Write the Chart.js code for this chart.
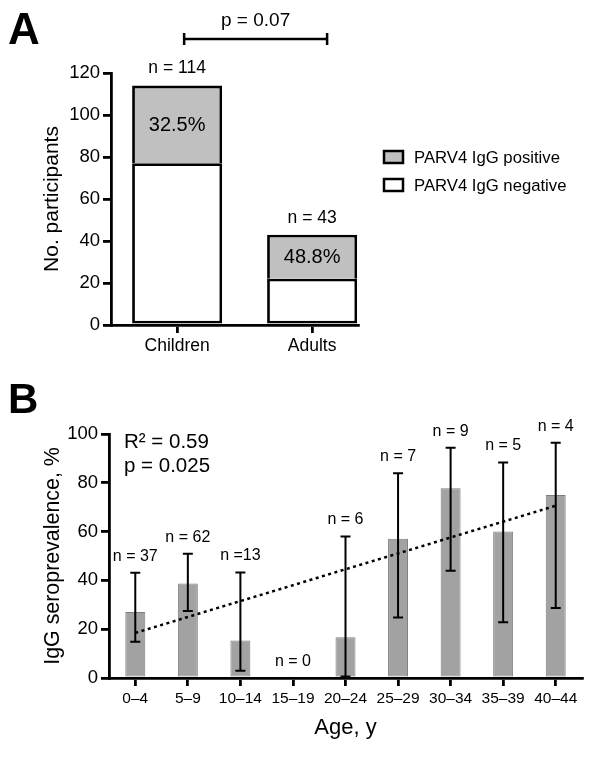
<!DOCTYPE html>
<html>
<head>
<meta charset="utf-8">
<script src="https://cdn.jsdelivr.net/npm/chart.js@4/dist/chart.umd.min.js"></script>
<style>
  body { margin: 0; background: #fff; }
  #wrap { position: relative; width: 600px; height: 768px; background: #fff; }
  #wrap canvas { position: absolute; left: 0; }
</style>
</head>
<body>
<div id="wrap">
  <canvas id="chartA" width="600" height="370" style="top:0px"></canvas>
  <canvas id="chartB" width="600" height="398" style="top:370px"></canvas>
</div>
<script>
// panel A data
var groups = ['Children', 'Adults'];
var negativeCounts = [77, 22];
var positiveCounts = [37, 21];
var totalLabels = ['n = 114', 'n = 43'];
var positivePct = ['32.5%', '48.8%'];
var countTicks = [0, 20, 40, 60, 80, 100, 120];

// panel B data
var ageGroups = ['0–4', '5–9', '10–14', '15–19', '20–24', '25–29', '30–34', '35–39', '40–44'];
var seroprev = [27.0, 38.7, 15.4, 0, 16.7, 57.1, 77.8, 60.0, 75.0];
var errLow = [14.9, 27.5, 3.0, null, 0.6, 24.8, 44.0, 22.8, 28.7];
var errHigh = [43.1, 50.9, 43.2, null, 58.0, 83.9, 94.4, 88.3, 96.4];
var nLabels = ['n = 37', 'n = 62', 'n =13', 'n = 0', 'n = 6', 'n = 7', 'n = 9', 'n = 5', 'n = 4'];
var trend = [18.5, null, null, null, null, null, null, null, 70.6];
var prevTicks = [0, 20, 40, 60, 80, 100];

var FONT = "'Liberation Sans', Arial, Helvetica, sans-serif";

function axisStyle() {
  return {
    grid: { drawOnChartArea: false, drawTicks: true, tickLength: 8, lineWidth: 2.8, color: '#000' },
    border: { display: true, color: '#000', width: 2.8 }
  };
}

/*
  panel A: stacked counts, linear x so the two bars can sit off-centre
*/
var annotateA = {
  id: 'annotateA',
  afterDraw: function (chart) {
    var ctx = chart.ctx;
    var x = chart.scales.x, y = chart.scales.y;
    ctx.save();
    ctx.fillStyle = '#000';
    ctx.strokeStyle = '#000';
    ctx.textAlign = 'center';
    ctx.textBaseline = 'middle';

    groups.forEach(function (g, i) {
      var cx = x.getPixelForValue(i);
      var total = negativeCounts[i] + positiveCounts[i];
      ctx.font = '17.5px ' + FONT;
      ctx.fillText(totalLabels[i], cx, y.getPixelForValue(total) - 17);
      ctx.font = '20px ' + FONT;
      ctx.fillText(positivePct[i], cx, y.getPixelForValue(negativeCounts[i] + positiveCounts[i] / 2) + 1);
    });

    // p value bracket
    var x1 = x.getPixelForValue(0) + 7, x2 = x.getPixelForValue(1) + 15, by = 39;
    ctx.lineWidth = 2.5;
    ctx.beginPath();
    ctx.moveTo(x1, by); ctx.lineTo(x2, by);
    ctx.moveTo(x1, by - 6); ctx.lineTo(x1, by + 6);
    ctx.moveTo(x2, by - 6); ctx.lineTo(x2, by + 6);
    ctx.stroke();
    ctx.font = '19px ' + FONT;
    ctx.fillText('p = 0.07', (x1 + x2) / 2, 21);

    // legend, positive first
    var items = [chart.data.datasets[1], chart.data.datasets[0]];
    var ly = [157, 185];
    ctx.textAlign = 'left';
    ctx.font = '16.7px ' + FONT;
    items.forEach(function (ds, k) {
      ctx.fillStyle = ds.backgroundColor;
      ctx.fillRect(384, ly[k] - 6, 19, 12);
      ctx.lineWidth = 2.5;
      ctx.strokeRect(384, ly[k] - 6, 19, 12);
      ctx.fillStyle = '#000';
      ctx.fillText(ds.label, 414, ly[k] + 1);
    });

    ctx.font = 'bold 44px ' + FONT;
    ctx.textBaseline = 'alphabetic';
    ctx.fillText('A', 8, 44);
    ctx.restore();
  }
};

var negData = groups.map(function (g, i) { return { x: i, y: negativeCounts[i] }; });
var posData = groups.map(function (g, i) { return { x: i, y: positiveCounts[i] }; });

var xA = axisStyle();
var yA = axisStyle();

new Chart(document.getElementById('chartA'), {
  type: 'bar',
  data: {
    datasets: [{
      label: 'PARV4 IgG negative',
      data: negData,
      backgroundColor: '#ffffff',
      borderColor: '#000',
      borderWidth: 2.8,
      borderSkipped: false,
      barPercentage: 0.667,
      categoryPercentage: 1
    }, {
      label: 'PARV4 IgG positive',
      data: posData,
      backgroundColor: '#c0c0c0',
      borderColor: '#000',
      borderWidth: 2.8,
      borderSkipped: 'bottom',
      barPercentage: 0.667,
      categoryPercentage: 1
    }]
  },
  options: {
    responsive: false,
    animation: false,
    layout: { padding: { left: 40, top: 73, right: 242, bottom: 0 } },
    plugins: { legend: { display: false }, tooltip: { enabled: false } },
    scales: {
      x: {
        type: 'linear',
        stacked: true,
        offset: false,
        min: -0.49,
        max: 1.34,
        afterBuildTicks: function (s) {
          s.ticks = groups.map(function (g, i) { return { value: i }; });
        },
        afterFit: function (s) { s.height = 45; },
        ticks: {
          autoSkip: false,
          maxRotation: 0,
          padding: 3,
          color: '#000',
          font: { family: FONT, size: 17.5 },
          callback: function (v) { return groups[v]; }
        },
        grid: Object.assign({}, xA.grid, { offset: false }),
        border: xA.border
      },
      y: {
        stacked: true,
        min: 0,
        max: 120,
        afterBuildTicks: function (s) {
          s.ticks = countTicks.map(function (v) { return { value: v }; });
        },
        afterFit: function (s) { s.width = 71; },
        ticks: { padding: 3, color: '#000', font: { family: FONT, size: 18.5 } },
        title: { display: true, text: 'No. participants', color: '#000', padding: 0, font: { family: FONT, size: 21 } },
        grid: yA.grid,
        border: yA.border
      }
    }
  },
  plugins: [annotateA]
});

/*
  panel B: seroprevalence by age with CI bars and the fitted line
*/
var annotateB = {
  id: 'annotateB',
  afterDatasetsDraw: function (chart) {
    var ctx = chart.ctx;
    var x = chart.scales.x, y = chart.scales.y;
    ctx.save();
    ctx.strokeStyle = '#000';
    ctx.lineWidth = 2;
    for (var i = 0; i < ageGroups.length; i++) {
      if (errHigh[i] == null) continue;
      var cx = x.getPixelForValue(i);
      var yh = y.getPixelForValue(errHigh[i]);
      var yl = y.getPixelForValue(errLow[i]);
      ctx.beginPath();
      ctx.moveTo(cx, yh); ctx.lineTo(cx, yl);
      ctx.moveTo(cx - 5, yh); ctx.lineTo(cx + 5, yh);
      ctx.moveTo(cx - 5, yl); ctx.lineTo(cx + 5, yl);
      ctx.stroke();
    }
    ctx.restore();
  },
  afterDraw: function (chart) {
    var ctx = chart.ctx;
    var x = chart.scales.x, y = chart.scales.y;
    ctx.save();
    ctx.fillStyle = '#000';
    ctx.textAlign = 'center';
    ctx.textBaseline = 'middle';
    ctx.font = '16px ' + FONT;
    for (var i = 0; i < ageGroups.length; i++) {
      var top = Math.max(seroprev[i], errHigh[i] == null ? 0 : errHigh[i]);
      ctx.fillText(nLabels[i], x.getPixelForValue(i), y.getPixelForValue(top) - 16.5);
    }
    ctx.textAlign = 'left';
    ctx.font = '20.5px ' + FONT;
    ctx.fillText('R² = 0.59', 124, 72);
    ctx.fillText('p = 0.025', 124, 96);

    ctx.font = 'bold 42px ' + FONT;
    ctx.textBaseline = 'alphabetic';
    ctx.fillText('B', 8, 43);
    ctx.restore();
  }
};

var xB = axisStyle();
var yB = axisStyle();

new Chart(document.getElementById('chartB'), {
  type: 'bar',
  data: {
    labels: ageGroups,
    datasets: [{
      type: 'line',
      data: trend,
      spanGaps: true,
      borderColor: '#000',
      borderWidth: 2.5,
      borderDash: [3, 3.5],
      pointRadius: 0,
      fill: false,
      order: 0
    }, {
      type: 'bar',
      data: seroprev,
      backgroundColor: '#a2a2a2',
      borderColor: '#7d7d7d',
      borderWidth: 1,
      borderSkipped: false,
      barPercentage: 0.38,
      categoryPercentage: 1,
      order: 1
    }]
  },
  options: {
    responsive: false,
    animation: false,
    layout: { padding: { left: 40, top: 64, right: 18, bottom: 27 } },
    plugins: { legend: { display: false }, tooltip: { enabled: false } },
    scales: {
      x: {
        offset: true,
        afterFit: function (s) { s.height = 63; },
        ticks: { autoSkip: false, maxRotation: 0, padding: 3, color: '#000', font: { family: FONT, size: 15.5 } },
        title: { display: true, text: 'Age, y', color: '#000', padding: 0, font: { family: FONT, size: 22 } },
        grid: Object.assign({}, xB.grid, { offset: false }),
        border: xB.border
      },
      y: {
        min: 0,
        max: 100,
        afterBuildTicks: function (s) {
          s.ticks = prevTicks.map(function (v) { return { value: v }; });
        },
        afterFit: function (s) { s.width = 69; },
        ticks: { padding: 3, color: '#000', font: { family: FONT, size: 18.5 } },
        title: { display: true, text: 'IgG seroprevalence, %', color: '#000', padding: 0, font: { family: FONT, size: 21.4 } },
        grid: yB.grid,
        border: yB.border
      }
    }
  },
  plugins: [annotateB]
});
</script>
</body>
</html>
